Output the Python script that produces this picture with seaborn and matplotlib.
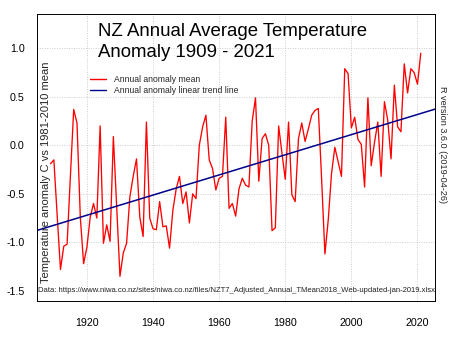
import numpy as np
import pandas as pd
import matplotlib
matplotlib.use("Agg")
import matplotlib.pyplot as plt
import seaborn as sns
from matplotlib.lines import Line2D

years = list(range(1909, 2022))
anomaly = [
    -0.19, -0.15, -0.72, -1.28, -1.04, -1.02, -0.32, 0.37, 0.23, -0.74,
    -1.22, -1.05, -0.74, -0.60, -0.75, 0.20, -1.01, -0.82, -0.99, 0.09,
    -0.63, -1.35, -1.11, -1.01, -0.53, -0.32, -0.14, -0.74, -0.94, 0.24,
    -0.75, -0.86, -0.87, -0.58, -0.84, -0.83, -1.06, -0.67, -0.45, -0.32,
    -0.60, -0.48, -0.80, -0.50, -0.55, 0.00, 0.19, 0.31, -0.15, -0.24,
    -0.46, -0.34, -0.32, 0.29, -0.65, -0.60, -0.73, -0.45, -0.34, -0.41,
    -0.43, 0.25, 0.49, -0.37, 0.07, 0.12, 0.00, -0.88, -0.85, 0.20,
    -0.08, -0.35, 0.24, -0.51, -0.58, 0.07, 0.23, 0.04, 0.17, 0.31,
    0.36, 0.38, -0.35, -1.12, -0.77, -0.29, -0.02, -0.17, -0.32, 0.79,
    0.74, 0.18, 0.29, 0.06, 0.01, -0.43, 0.49, -0.21, 0.03, 0.24,
    -0.32, 0.45, 0.26, -0.14, 0.62, 0.19, 0.14, 0.84, 0.54, 0.79,
    0.75, 0.63, 0.95,
]
x_ticks = [1920, 1940, 1960, 1980, 2000, 2020]
y_ticks = [-1.5, -1.0, -0.5, 0.0, 0.5, 1.0]
title = "NZ Annual Average Temperature\nAnomaly 1909 - 2021"
legend_labels = ["Annual anomaly mean", "Annual anomaly linear trend line"]
ylabel = "Temperature anomaly C vs 1981-2010 mean"
data_note = ("Data: https://www.niwa.co.nz/sites/niwa.co.nz/files/"
             "NZT7_Adjusted_Annual_TMean2018_Web-updated-jan-2019.xlsx")
r_note = "R version 3.6.0 (2019-04-26)"

df = pd.DataFrame({"year": years, "anomaly": anomaly})

sns.set_style("white")
plt.rcParams["font.family"] = ["Liberation Sans", "DejaVu Sans"]

fig = plt.figure(figsize=(4.5, 3.38), dpi=100)
ax = fig.add_axes([37 / 450, 37 / 338, 398 / 450, 287 / 338])
ax.set_xlim(1904.9, 2025.3)
ax.set_ylim(-1.605, 1.354)

ax.grid(True, color="#cccccc", linestyle=(0, (1, 1.5)), linewidth=0.7)
ax.set_axisbelow(True)

sns.lineplot(data=df, x="year", y="anomaly", ax=ax, color="#ff0000",
             linewidth=0.95, legend=False)
sns.regplot(data=df, x="year", y="anomaly", ax=ax, scatter=False, ci=None,
            truncate=False, color="#00008b", line_kws={"linewidth": 1.1})

ax.set_xlim(1904.9, 2025.3)
ax.set_ylim(-1.605, 1.354)
ax.set_xticks(x_ticks)
ax.set_yticks(y_ticks)
ax.set_xticklabels([str(v) for v in x_ticks])
ax.set_yticklabels([f"{v:.1f}" for v in y_ticks])
ax.tick_params(axis="both", direction="in", length=3, width=0.6,
               labelsize=7.7, colors="black")
ax.tick_params(axis="x", pad=12)
ax.tick_params(axis="y", pad=9)
ax.set_xlabel("")
ax.set_ylabel("")
for s in ax.spines.values():
    s.set_visible(True)
    s.set_color("black")
    s.set_linewidth(0.7)

ax.text((98 - 37) / 398, (301 - 23) / 287, title, transform=ax.transAxes,
        ha="left", va="top", fontsize=13.4, linespacing=1.3, color="black")

handles = [Line2D([], [], color="#ff0000", linewidth=1.0),
           Line2D([], [], color="#00008b", linewidth=1.0)]
ax.legend(handles, legend_labels, loc="upper left",
          bbox_to_anchor=((90 - 37) / 398, (301 - 75) / 287),
          frameon=False, fontsize=6.2, handlelength=1.85, handletextpad=0.9,
          labelspacing=0.22, borderpad=0, borderaxespad=0)

ax.text((46 - 37) / 398, (301 - 172) / 287, ylabel, transform=ax.transAxes,
        rotation=90, ha="center", va="center", fontsize=8.0)
ax.text(0.002, (301 - 291) / 287, data_note, transform=ax.transAxes,
        ha="left", va="center", fontsize=5.5)
fig.text(442 / 450, (338 - 145) / 338, r_note, rotation=-90,
         ha="center", va="center", fontsize=6.6)

fig.savefig("out.png", dpi=100)
